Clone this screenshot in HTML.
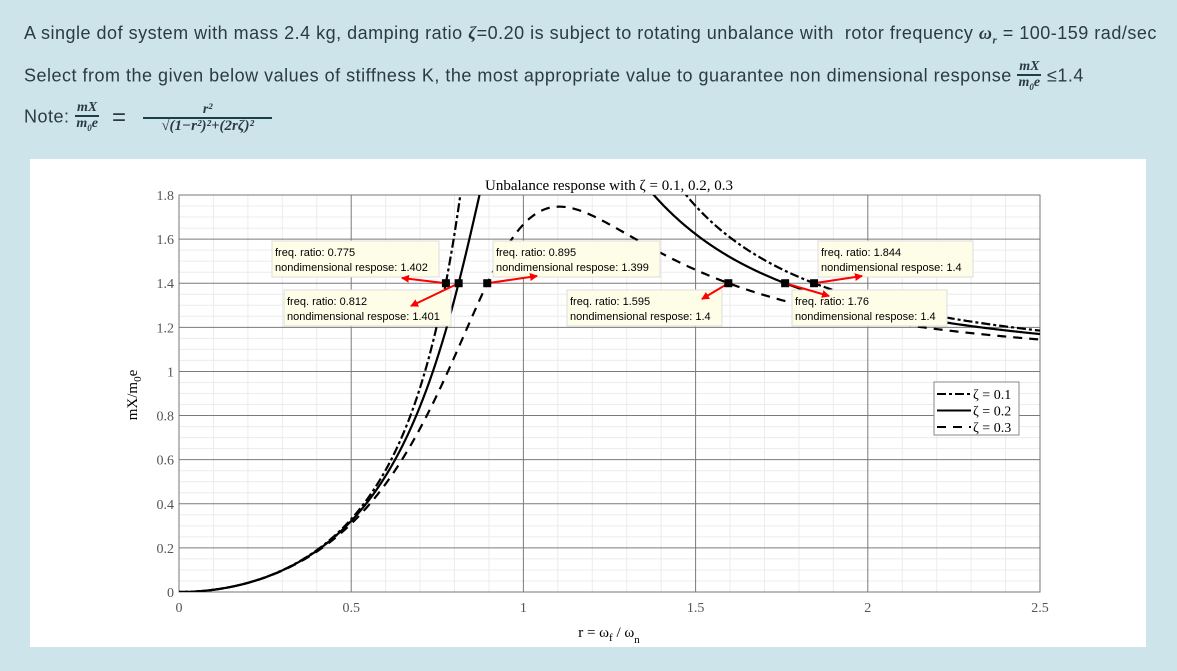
<!DOCTYPE html>
<html><head><meta charset="utf-8">
<style>
body{margin:0;width:1177px;height:671px;background:#cde5ea;font-family:"Liberation Sans",sans-serif;color:#2b3a44;position:relative;overflow:hidden}
.t{position:absolute;font-size:18px;letter-spacing:0.5px;white-space:nowrap}
.m{font-family:"Liberation Serif",serif;font-style:italic;font-weight:bold}
.fr{display:inline-block;vertical-align:middle;text-align:center;font-family:"Liberation Serif",serif;font-style:italic;font-weight:bold;font-size:14px;line-height:14px;letter-spacing:0}
.fr .n{border-bottom:2px solid #1d3f4a;padding:0 2px}
#card{position:absolute;left:30px;top:159px;width:1116px;height:488px;background:#fff}
svg text{font-family:"Liberation Serif",serif}
</style></head><body>
<div class="t" style="left:24px;top:23px">A single dof system with mass 2.4 kg, damping ratio <span class="m">ζ</span>=0.20 is subject to rotating unbalance with&nbsp; rotor frequency <span class="m">ω<sub style="font-size:11px">r</sub></span> = 100-159 rad/sec</div>
<div class="t" style="left:24px;top:60px">Select from the given below values of stiffness K, the most appropriate value to guarantee non dimensional response <span class="fr"><div class="n">mX</div><div>m<sub style="font-size:9px">0</sub>e</div></span> ≤1.4</div>
<div class="t" style="left:24px;top:101px">Note: <span class="fr"><div class="n">mX</div><div>m<sub style="font-size:9px">0</sub>e</div></span> <span style="font-size:24px;vertical-align:middle">&nbsp;=&nbsp;</span> <span class="fr" style="margin-left:4px"><div class="n" style="width:125px">r²</div><div style="font-size:15px">√(1−r²)²+(2rζ)²</div></span></div>
<div id="card"></div>
<svg id="chart" width="1177" height="671" style="position:absolute;left:0;top:0"></svg>
<script>
const zetas=[0.1,0.2,0.3];
const dashes=["9,3,3,3","","9,7"];
const xTicks=[0,0.5,1,1.5,2,2.5];
const yTicks=[0,0.2,0.4,0.6,0.8,1,1.2,1.4,1.6,1.8];
const tipR=[0.775,0.812,0.895,1.595,1.76,1.844];
const tipV=["1.402","1.401","1.399","1.4","1.4","1.4"];
const tipBox=[[272,241],[284,290],[493,241],[567,290],[792,290],[818,241]];
const tipArrow=[[402,278],[411,306],[537,276],[702,299],[829,296],[862,276]];
const NS="http://www.w3.org/2000/svg";
const svg=document.getElementById('chart');
const L=179,R=1040,T=195,B=592;
const X=v=>L+v/2.5*(R-L), Y=v=>B-v/1.8*(B-T);
function mk(t,a,p){const e=document.createElementNS(NS,t);for(const k in a)e.setAttribute(k,a[k]);(p||svg).appendChild(e);return e;}
for(let i=1;i<25;i++){if(i%5)mk('line',{x1:X(i*0.1),x2:X(i*0.1),y1:T,y2:B,stroke:'#ececec'});}
for(let i=1;i<36;i++){if(i%4)mk('line',{x1:L,x2:R,y1:Y(i*0.05),y2:Y(i*0.05),stroke:'#ececec'});}
xTicks.forEach(v=>{const l=mk('line',{x1:X(v),x2:X(v),y1:T,y2:B,stroke:'#7a7a7a'});

const t=mk('text',{x:X(v),y:B+20,'text-anchor':'middle','font-size':14,fill:'#555'});t.textContent=v;
});
yTicks.forEach(v=>{const l=mk('line',{x1:L,x2:R,y1:Y(v),y2:Y(v),stroke:'#7a7a7a'});

const t=mk('text',{x:L-5,y:Y(v)+5,'text-anchor':'end','font-size':14,fill:'#555'});t.textContent=v;
});
mk('rect',{x:L,y:T,width:R-L,height:B-T,fill:'none',stroke:'#777'});
const cp=mk('clipPath',{id:'cp'});mk('rect',{x:L,y:T,width:R-L,height:B-T},cp);
zetas.forEach((z,i)=>{let d='';for(let k=0;k<=1000;k++){const r=k*2.5/1000;const v=r*r/Math.sqrt((1-r*r)**2+(2*r*z)**2);d+=(k?'L':'M')+X(r).toFixed(2)+','+Y(v).toFixed(2);}
const p=mk('path',{d:d,fill:'none',stroke:'#000','stroke-width':2.2,'stroke-dasharray':dashes[i],'clip-path':'url(#cp)'});
});
const defs=mk('defs',{});const mkr=mk('marker',{id:'ah',markerWidth:8,markerHeight:8,refX:7,refY:4,orient:'auto',markerUnits:'userSpaceOnUse'},defs);mk('path',{d:'M0,0L8,4L0,8Z',fill:'#f00'},mkr);
tipR.forEach((r,i)=>{const bx=tipBox[i];
const g=mk('g',{});
mk('rect',{x:bx[0],y:bx[1],width:i<3?167:155,height:36,fill:'#fdfde8',stroke:'#ddd'},g);
const t1=mk('text',{x:bx[0]+3,y:bx[1]+15,'font-size':11,style:'font-family:Liberation Sans,sans-serif'},g);t1.textContent='freq. ratio: '+r;
const t2=mk('text',{x:bx[0]+3,y:bx[1]+30,'font-size':11,style:'font-family:Liberation Sans,sans-serif'},g);t2.textContent='nondimensional respose: '+tipV[i];
mk('line',{x1:X(r),y1:Y(1.4),x2:tipArrow[i][0],y2:tipArrow[i][1],stroke:'#f00','stroke-width':2,'marker-end':'url(#ah)'},g);
mk('rect',{x:X(r)-4,y:Y(1.4)-4,width:8,height:8,fill:'#000'},g);});
const ti=mk('text',{x:609,y:190,'text-anchor':'middle','font-size':15});ti.textContent='Unbalance response with ζ =  0.1,  0.2,  0.3';

const xl=mk('text',{x:609,y:637,'text-anchor':'middle','font-size':15});xl.innerHTML='r = ω<tspan dy="4" font-size="11">f</tspan><tspan dy="-4"> / ω</tspan><tspan dy="6" font-size="11">n</tspan>';

const yl=mk('text',{transform:'translate(137,395) rotate(-90)','text-anchor':'middle','font-size':15});yl.innerHTML='mX/m<tspan dy="4" font-size="11">0</tspan><tspan dy="-4">e</tspan>';

const lg=mk('g',{});
mk('rect',{x:934,y:382,width:85,height:53,fill:'#fff',stroke:'#888'},lg);
zetas.forEach((z,i)=>{const yy=394+i*16.5;mk('line',{x1:937,x2:971,y1:yy,y2:yy,stroke:'#000','stroke-width':2,'stroke-dasharray':dashes[i]},lg);
const t=mk('text',{x:973,y:yy+5,'font-size':14},lg);t.textContent='ζ = '+z;
});
</script>
</body></html>
